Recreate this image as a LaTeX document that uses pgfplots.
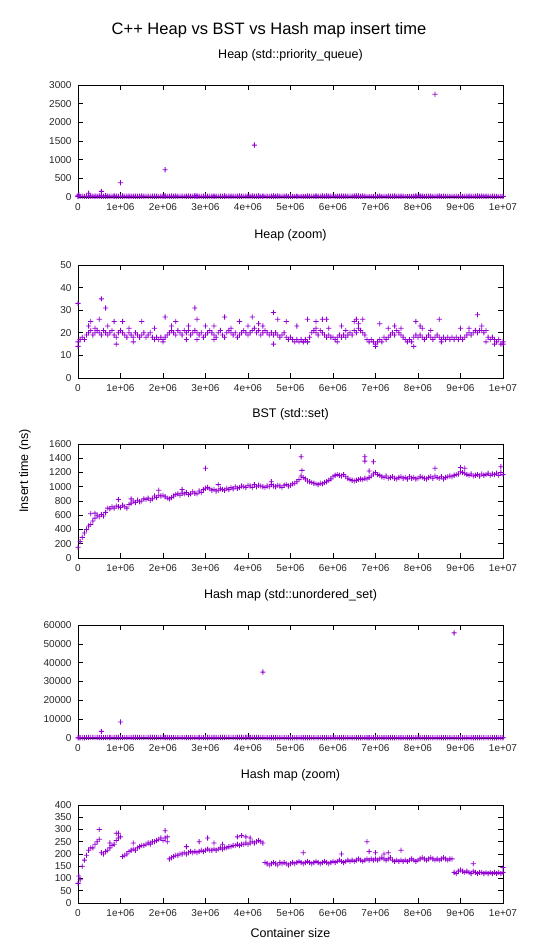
\documentclass[border=0pt]{standalone}
\usepackage{pgfplots}
\pgfplotsset{compat=1.18}
\usepackage{pgfplotstable}
\usepackage{fontspec}
\setmainfont{Liberation Sans}
\definecolor{gpviolet}{RGB}{148,0,211}

\makeatletter
\pgfdeclareplotmark{gpplus}{%
  \pgfsys@color@rgb@fill{0.58}{0}{0.827}%
  \pgfsys@color@rgb@stroke{0.58}{0}{0.827}%
  \pgfpathmoveto{\pgfqpoint{-\pgfplotmarksize}{-0.42pt}}%
  \pgfpathlineto{\pgfqpoint{-0.42pt}{-0.42pt}}%
  \pgfpathlineto{\pgfqpoint{-0.42pt}{-\pgfplotmarksize}}%
  \pgfpathlineto{\pgfqpoint{0.42pt}{-\pgfplotmarksize}}%
  \pgfpathlineto{\pgfqpoint{0.42pt}{-0.42pt}}%
  \pgfpathlineto{\pgfqpoint{\pgfplotmarksize}{-0.42pt}}%
  \pgfpathlineto{\pgfqpoint{\pgfplotmarksize}{0.42pt}}%
  \pgfpathlineto{\pgfqpoint{0.42pt}{0.42pt}}%
  \pgfpathlineto{\pgfqpoint{0.42pt}{\pgfplotmarksize}}%
  \pgfpathlineto{\pgfqpoint{-0.42pt}{\pgfplotmarksize}}%
  \pgfpathlineto{\pgfqpoint{-0.42pt}{0.42pt}}%
  \pgfpathlineto{\pgfqpoint{-\pgfplotmarksize}{0.42pt}}%
  \pgfpathclose
  \pgfusepathqfill}
\makeatother

% x in millions (container size / 1e6)
\pgfplotstableread{
x y
0 16
0.05 17
0.10 18
0.15 17
0.20 19
0.25 20
0.30 21
0.35 19
0.40 20
0.45 21
0.50 20
0.55 19
0.60 21
0.65 20
0.70 19
0.75 20
0.80 21
0.85 19
0.90 18
0.95 20
1.00 21
1.05 20
1.10 19
1.15 18
1.20 20
1.25 19
1.30 18
1.35 20
1.40 19
1.45 18
1.50 19
1.55 20
1.60 18
1.65 19
1.70 20
1.75 18
1.80 17
1.85 18
1.90 17
1.95 18
2.00 17
2.05 18
2.10 19
2.15 20
2.20 21
2.25 20
2.30 19
2.35 21
2.40 20
2.45 19
2.50 21
2.55 20
2.60 21
2.65 19
2.70 20
2.75 21
2.80 20
2.85 19
2.90 20
2.95 18
3.00 19
3.05 20
3.10 21
3.15 20
3.20 19
3.25 18
3.30 20
3.35 21
3.40 19
3.45 18
3.50 20
3.55 21
3.60 20
3.65 19
3.70 20
3.75 18
3.80 19
3.85 20
3.90 21
3.95 20
4.00 19
4.05 20
4.10 21
4.15 22
4.20 20
4.25 21
4.30 19
4.35 20
4.40 21
4.45 20
4.50 19
4.55 20
4.60 19
4.65 20
4.70 19
4.75 18
4.80 19
4.85 20
4.90 18
4.95 17
5.00 18
5.05 17
5.10 16
5.15 17
5.20 16
5.25 17
5.30 16
5.35 17
5.40 16
5.45 18
5.50 20
5.55 21
5.60 20
5.65 19
5.70 21
5.75 20
5.80 19
5.85 18
5.90 19
5.95 18
6.00 18
6.05 17
6.10 18
6.15 19
6.20 18
6.25 19
6.30 18
6.35 19
6.40 20
6.45 19
6.50 21
6.55 20
6.60 22
6.65 21
6.70 20
6.75 19
6.80 17
6.85 16
6.90 17
6.95 16
7.00 15
7.05 16
7.10 17
7.15 16
7.20 18
7.25 17
7.30 18
7.35 19
7.40 20
7.45 19
7.50 21
7.55 20
7.60 19
7.65 18
7.70 17
7.75 16
7.80 17
7.85 16
7.90 18
7.95 19
8.00 18
8.05 19
8.10 18
8.15 17
8.20 18
8.25 19
8.30 18
8.35 17
8.40 18
8.45 19
8.50 18
8.55 17
8.60 18
8.65 17
8.70 18
8.75 17
8.80 18
8.85 17
8.90 18
8.95 17
9.00 18
9.05 17
9.10 18
9.15 19
9.20 20
9.25 19
9.30 20
9.35 21
9.40 20
9.45 21
9.50 21
9.55 20
9.60 21
9.65 18
9.70 17
9.75 18
9.80 17
9.85 16
9.90 17
9.95 15
10.00 16
0 33
0 14
0.55 35
0.65 31
0.3 25
0.5 26
0.85 25
1.05 25
1.5 25
2.05 27
2.3 25
2.75 31
2.8 26
3.2 23
3.45 27
3.8 25
4.1 27
4.25 24
4.6 29
4.7 26
4.9 25
5.15 23
5.4 26
5.6 25
5.75 26
5.85 26
6.2 23
6.5 25
6.55 26
6.7 26
7.1 24
7.45 23
7.95 25
8.05 23
8.5 26
9.4 28
9.0 22
0.9 15
1.3 16
2.0 16
2.55 17
2.8 17
3.2 17
4.6 15
5.3 16
5.4 16
6.1 16
7.0 14
7.9 14
8.55 16
9.6 16
9.8 15
10 15
0.25 23
0.4 22
0.7 23
1.2 22
1.8 22
2.2 23
2.6 23
3.0 23
3.6 22
4.0 23
4.35 23
5.6 22
5.9 22
6.3 21
6.6 24
7.3 22
7.6 22
8.1 22
8.3 21
9.2 22
9.5 23
}\heapdata

\pgfplotstableread{
x y
0 150
0.05 230
0.10 290
0.15 350
0.20 400
0.25 450
0.30 470
0.35 520
0.40 560
0.45 600
0.50 580
0.55 610
0.60 590
0.65 640
0.70 700
0.75 690
0.80 720
0.85 700
0.90 730
0.95 720
1.00 710
1.05 740
1.10 720
1.15 700
1.20 750
1.25 770
1.30 800
1.35 780
1.40 810
1.45 790
1.50 800
1.55 830
1.60 820
1.65 840
1.70 810
1.75 830
1.80 870
1.85 850
1.90 880
1.95 870
2.00 880
2.05 860
2.10 840
2.15 830
2.20 850
2.25 870
2.30 890
2.35 900
2.40 880
2.45 910
2.50 900
2.55 920
2.60 890
2.65 900
2.70 930
2.75 910
2.80 900
2.85 940
2.90 920
2.95 960
3.00 980
3.05 990
3.10 970
3.15 950
3.20 960
3.25 940
3.30 950
3.35 970
3.40 960
3.45 950
3.50 980
3.55 960
3.60 990
3.65 970
3.70 1000
3.75 980
3.80 990
3.85 1010
3.90 1000
3.95 990
4.00 1020
4.05 1010
4.10 990
4.15 1030
4.20 1000
4.25 1020
4.30 1010
4.35 1000
4.40 990
4.45 1010
4.50 1000
4.55 1030
4.60 1010
4.65 1000
4.70 1020
4.75 1010
4.80 990
4.85 1020
4.90 1030
4.95 1010
5.00 1020
5.05 1040
5.10 1050
5.15 1070
5.20 1100
5.25 1150
5.30 1130
5.35 1110
5.40 1080
5.45 1070
5.50 1060
5.55 1050
5.60 1040
5.65 1030
5.70 1050
5.75 1040
5.80 1060
5.85 1070
5.90 1090
5.95 1110
6.00 1140
6.05 1160
6.10 1170
6.15 1160
6.20 1150
6.25 1170
6.30 1140
6.35 1120
6.40 1100
6.45 1090
6.50 1080
6.55 1090
6.60 1100
6.65 1110
6.70 1100
6.75 1120
6.80 1110
6.85 1130
6.90 1150
6.95 1180
7.00 1200
7.05 1170
7.10 1160
7.15 1140
7.20 1130
7.25 1150
7.30 1120
7.35 1130
7.40 1140
7.45 1120
7.50 1110
7.55 1130
7.60 1140
7.65 1120
7.70 1130
7.75 1110
7.80 1140
7.85 1120
7.90 1130
7.95 1110
8.00 1120
8.05 1140
8.10 1130
8.15 1120
8.20 1110
8.25 1130
8.30 1140
8.35 1120
8.40 1150
8.45 1130
8.50 1120
8.55 1140
8.60 1110
8.65 1130
8.70 1140
8.75 1150
8.80 1140
8.85 1160
8.90 1170
8.95 1180
9.00 1210
9.05 1200
9.10 1190
9.15 1170
9.20 1160
9.25 1180
9.30 1150
9.35 1160
9.40 1170
9.45 1150
9.50 1180
9.55 1160
9.60 1170
9.65 1190
9.70 1160
9.75 1180
9.80 1170
9.85 1190
9.90 1160
9.95 1200
10.00 1170
3.0 1260
5.25 1420
5.27 1230
6.75 1420
6.75 1360
6.95 1350
6.85 1220
8.4 1260
9.0 1270
9.1 1260
9.95 1280
0.95 820
1.9 950
2.45 960
3.3 1030
4.55 1070
0.3 620
0.4 630
1.25 830
}\bstdata

\pgfplotstableread{
x y
0 80
0.02 110
0.05 95
0.10 150
0.15 175
0.20 195
0.25 215
0.30 225
0.35 225
0.40 240
0.45 250
0.50 260
0.55 205
0.60 200
0.65 210
0.70 215
0.75 225
0.80 235
0.85 240
0.90 255
0.95 265
1.00 270
1.05 190
1.10 195
1.15 200
1.20 210
1.25 215
1.30 220
1.35 215
1.40 225
1.45 230
1.50 235
1.55 235
1.60 240
1.65 245
1.70 245
1.75 250
1.80 250
1.85 255
1.90 260
1.95 265
2.00 255
2.05 265
2.10 250
2.15 180
2.20 185
2.25 190
2.30 195
2.35 195
2.40 200
2.45 200
2.50 205
2.55 200
2.60 205
2.65 210
2.70 205
2.75 210
2.80 205
2.85 210
2.90 215
2.95 210
3.00 215
3.05 220
3.10 215
3.15 215
3.20 220
3.25 215
3.30 220
3.35 225
3.40 220
3.45 225
3.50 225
3.55 230
3.60 230
3.65 235
3.70 235
3.75 240
3.80 235
3.85 240
3.90 240
3.95 245
4.00 240
4.05 245
4.10 250
4.15 245
4.20 250
4.25 255
4.30 250
4.35 245
4.40 165
4.45 160
4.50 155
4.55 160
4.60 165
4.65 160
4.70 155
4.75 165
4.80 160
4.85 165
4.90 160
4.95 155
5.00 160
5.05 165
5.10 160
5.15 165
5.20 170
5.25 165
5.30 160
5.35 165
5.40 170
5.45 165
5.50 160
5.55 165
5.60 170
5.65 165
5.70 160
5.75 165
5.80 170
5.85 165
5.90 160
5.95 165
6.00 170
6.05 165
6.10 170
6.15 175
6.20 170
6.25 165
6.30 170
6.35 175
6.40 170
6.45 175
6.50 170
6.55 175
6.60 180
6.65 175
6.70 170
6.75 175
6.80 180
6.85 175
6.90 180
6.95 175
7.00 180
7.05 175
7.10 180
7.15 185
7.20 180
7.25 175
7.30 180
7.35 185
7.40 175
7.45 170
7.50 175
7.55 170
7.60 175
7.65 170
7.70 175
7.75 170
7.80 175
7.85 180
7.90 175
7.95 170
8.00 175
8.05 180
8.10 185
8.15 180
8.20 175
8.25 180
8.30 185
8.35 180
8.40 175
8.45 180
8.50 175
8.55 180
8.60 185
8.65 180
8.70 175
8.75 180
8.80 180
8.85 125
8.90 120
8.95 130
9.00 135
9.05 130
9.10 125
9.15 130
9.20 125
9.25 120
9.30 130
9.35 125
9.40 120
9.45 125
9.50 125
9.55 120
9.60 125
9.65 120
9.70 125
9.75 120
9.80 125
9.85 120
9.90 125
9.95 120
10.00 125
10.0 145
0.5 300
0.9 285
0.95 285
2.05 295
2.1 270
3.05 265
2.85 250
3.85 275
3.75 270
3.95 270
6.8 250
6.85 210
5.3 205
7.6 215
9.3 160
6.2 200
7.0 205
7.2 200
7.3 205
0.75 245
1.3 245
1.7 240
2.55 230
3.2 245
3.4 240
4.05 265
}\hashdata

\pgfplotsset{
  gp/.style={
    scale only axis, width=425pt, anchor=south west,
    xmin=0, xmax=10, xtick={0,1,...,10},
    xticklabels={0,1e+06,2e+06,3e+06,4e+06,5e+06,6e+06,7e+06,8e+06,9e+06,1e+07},
    ymin=0,
    xtick pos=both, ytick pos=both,
    tick align=inside, major tick length=5pt,
    tick style={black, line width=0.6pt},
    axis line style={black, line width=0.7pt},
    scaled ticks=false,
    yticklabel={\pgfmathprintnumber[assume math mode=true,1000 sep={},fixed]{\tick}},
    tick label style={font=\fontsize{10}{12}\selectfont, text=black!85},
    xticklabel style={yshift=-3pt},
    yticklabel style={xshift=-3pt},
    title style={font=\fontsize{12.5}{14}\selectfont, text=black, at={(0.5,1)}, anchor=center, yshift=24pt},
    clip=false,
  },
  gpplot/.style={only marks, mark=gpplus, mark size=2.6pt, color=gpviolet, fill=gpviolet,
    mark options={solid, fill=gpviolet, draw=none}},
}

\begin{document}
\begin{tikzpicture}[x=1pt,y=1pt]
\useasboundingbox (0,0) rectangle (540,945);
\node[text=black, font=\fontsize{16.5}{19}\selectfont] at (269,915) {C++ Heap vs BST vs Hash map insert time};
\node[text=black, rotate=90, font=\fontsize{12.5}{14}\selectfont] at (25,474) {Insert time (ns)};

\begin{axis}[gp, at={(78pt,748pt)}, height=112pt, ymax=3000, ytick={0,500,...,3000},
  title={Heap (std::priority\_queue)}]
\addplot[gpplot] table {\heapdata};
\addplot[gpplot] coordinates {(0.02,60) (0.25,100) (0.55,150) (1.0,380) (2.05,730) (4.15,1390) (8.4,2750)};
\end{axis}

\begin{axis}[gp, at={(78pt,567pt)}, height=113pt, ymax=50, ytick={0,10,...,50},
  title={Heap (zoom)}]
\addplot[gpplot] table {\heapdata};
\end{axis}

\begin{axis}[gp, at={(78pt,387pt)}, height=114pt, ymax=1600, ytick={0,200,...,1600},
  title={BST (std::set)}]
\addplot[gpplot] table {\bstdata};
\end{axis}

\begin{axis}[gp, at={(78pt,207pt)}, height=113pt, ymax=60000, ytick={0,10000,...,60000},
  title={Hash map (std::unordered\_set)}]
\addplot[gpplot] table {\hashdata};
\addplot[gpplot] coordinates {(0.55,3500) (1.0,8500) (4.35,35000) (8.85,55800)};
\end{axis}

\begin{axis}[gp, at={(78pt,42pt)}, height=98pt, ymax=400, ytick={0,50,...,400},
  title={Hash map (zoom)},
  xlabel={Container size},
  xlabel style={font=\fontsize{12.5}{14}\selectfont, text=black, at={(0.5,0)}, anchor=center, yshift=-30pt}]
\addplot[gpplot] table {\hashdata};
\end{axis}
\end{tikzpicture}
\end{document}
